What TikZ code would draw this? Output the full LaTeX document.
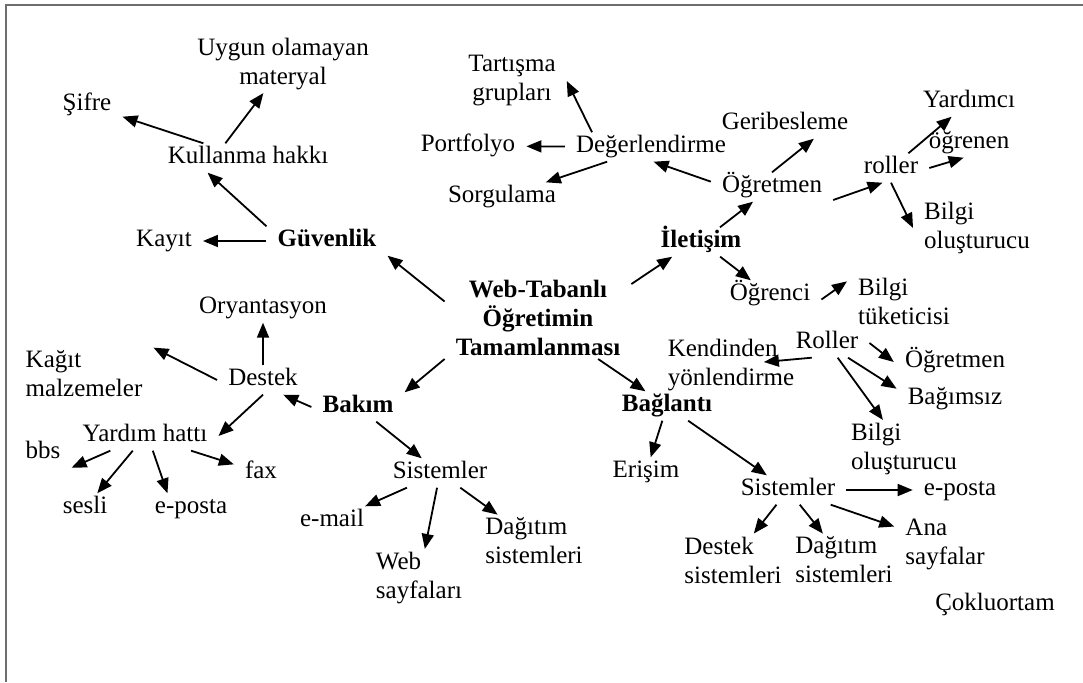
\documentclass[tikz,border=0pt]{standalone}
\usepackage{fontspec}
\setmainfont{Liberation Serif}
\usepackage{tikz}
\usetikzlibrary{arrows.meta}
\tikzstyle{leaf} = [font=\fontsize{25}{29}\selectfont, inner xsep=11pt, inner ysep=3pt, text height=17pt, text depth=6pt]
\tikzstyle{leafml} = [font=\fontsize{25}{29}\selectfont, inner xsep=11pt, inner ysep=3pt, align=left]
\tikzstyle{hub} = [font=\fontsize{25}{29}\selectfont\bfseries, inner xsep=11pt, inner ysep=3pt, text height=17pt, text depth=6pt]
\tikzstyle{link} = [-{Triangle[length=15pt,width=12pt]}, line width=1.8pt]
\tikzstyle{frame} = [line width=2pt, color={rgb,255:red,110;green,110;blue,110}]

\begin{document}
\begin{tikzpicture}[x=1pt, y=-1pt]
		\useasboundingbox (0,0) rectangle (1083,682);
		\draw [frame] (1083,5) -- (6,5) -- (6,682);

		% centre
		\node [hub, text height=, text depth=, align=center] (title) at (538,318) {Web-Tabanlı\\Öğretimin\\Tamamlanması};

		% Güvenlik
		\node [hub] (guv) at (327,241) {Güvenlik};
		\node [leaf, left of=guv, node distance=163pt] (kayit) {Kayıt};
		\node [leaf] (kull) at (248,158) {Kullanma hakkı};
		\node [leaf] (sifre) at (87,105) {Şifre};
		\node [leafml, align=center] (uygun) at (283,64) {Uygun olamayan\\materyal};
		\draw [link] (title.170) -- (guv.south east);
		\draw [link] (guv) -- (kayit);
		\draw [link] (guv.north west) -- (kull.200);
		\draw [link] (kull) -- (sifre);
		\draw [link] (kull.147) -- (uygun.236);

		% Bakım
		\node [hub] (bakim) at (358,407) {Bakım};
		\node [leaf] (destek) at (263,380) {Destek};
		\node [leaf, above of=destek, node distance=72pt] (orya) {Oryantasyon};
		\node [leafml] (kagit) at (84,374) {Kağıt\\malzemeler};
		\node [leaf] (yardim) at (145,436) {Yardım hattı};
		\node [leaf] (bbs) at (43,453) {bbs};
		\node [leaf] (fax) at (261,473) {fax};
		\node [leaf] (sesli) at (85,508) {sesli};
		\node [leaf, right of=sesli, node distance=106pt] (eposta1) {e-posta};
		\node [leaf] (sis1) at (440,473) {Sistemler};
		\node [leaf] (email) at (332,521) {e-mail};
		\node [leafml] (websay) at (419,578) {Web\\sayfaları};
		\node [leafml] (dagitim1) at (534,541) {Dağıtım\\sistemleri};
		\draw [link] (title.south west) -- (bakim.north east);
		\draw [link] (bakim.west) -- (destek.324);
		\draw [link] (destek) -- (orya);
		\draw [link] (destek.west) -- (kagit.north east);
		\draw [link] (destek.south) -- (yardim.east);
		\draw [link] (yardim.203) -- (bbs.south east);
		\draw [link] (yardim) -- (fax);
		\draw [link] (yardim) -- (sesli);
		\draw [link] (yardim.298) -- (eposta1.148);
		\draw [link] (bakim) -- (sis1);
		\draw [link] (sis1) -- (email);
		\draw [link] (sis1) -- (websay);
		\draw [link] (sis1) -- (dagitim1);

		% İletişim
		\node [hub] (ilet) at (701,242) {İletişim};
		\node [leaf] (ogretmen1) at (772,187) {Öğretmen};
		\node [leaf] (deger) at (651,147) {Değerlendirme};
		\node [leafml, align=center] (tartisma) at (512,81) {Tartışma\\grupları};
		\node [leaf] (portfolyo) at (468,146) {Portfolyo};
		\node [leaf] (sorgu) at (502,197) {Sorgulama};
		\node [leaf] (geri) at (785,124) {Geribesleme};
		\node [leaf] (roller1) at (891,168) {roller};
		\node [leaf] (yardimci) at (969,102) {Yardımcı};
		\node [leaf, below of=yardimci, node distance=41pt] (ogrenen) {öğrenen};
		\node [leafml] (bilgi1) at (977,228) {Bilgi\\oluşturucu};
		\node [leaf] (ogrenci) at (770,295) {Öğrenci};
		\node [leafml] (tuketici) at (904,301) {Bilgi\\tüketicisi};
		\draw [link] (title.20) -- (ilet.207);
		\draw [link] (ilet) -- (ogretmen1);
		\draw [link] (ogretmen1.175) -- (deger.-80);
		\draw [link] (deger.166) -- (tartisma.east);
		\draw [link] (deger) -- (portfolyo);
		\draw [link] (deger) -- (sorgu);
		\draw [link] (ogretmen1.north) -- (geri.333);
		\draw [link] (ogretmen1.-12) -- (roller1.240);
		\draw [link] (roller1) -- (yardimci);
		\draw [link] (roller1.east) -- (ogrenen.250);
		\draw [link] (roller1.south) -- (bilgi1.west);
		\draw [link] (ilet) -- (ogrenci);
		\draw [link] (ogrenci.-5) -- (tuketici.161);

		% Bağlantı
		\node [hub] (baglanti) at (667,406) {Bağlantı};
		\node [leaf] (roller2) at (827,343) {Roller};
		\node [leafml] (kendinden) at (731,365) {Kendinden\\yönlendirme};
		\node [leaf] (ogretmen2) at (955,362) {Öğretmen};
		\node [leaf, below of=ogretmen2, node distance=37pt] (bagimsiz) {Bağımsız};
		\node [leafml] (bilgi2) at (904,449) {Bilgi\\oluşturucu};
		\node [leaf] (erisim) at (646,472) {Erişim};
		\node [leaf] (sis2) at (788,490) {Sistemler};
		\node [leaf] (eposta2) at (960,490) {e-posta};
		\node [leafml] (desteksis) at (733,560) {Destek\\sistemleri};
		\node [leafml] (dagitim2) at (844,560) {Dağıtım\\sistemleri};
		\node [leafml] (ana) at (945,544) {Ana\\sayfalar};
		\node [leaf] (coklu) at (995,605) {Çokluortam};
		\draw [link] (title) -- (baglanti);
		\draw [link, shorten >=33pt] (roller2.224) -- (kendinden.center);
		\draw [link] (roller2.east) -- (ogretmen2.west);
		\draw [link] (roller2.325) -- (bagimsiz.170);
		\draw [link] (roller2) -- (bilgi2);
		\draw [link] (baglanti) -- (erisim);
		\draw [link] (baglanti) -- (sis2);
		\draw [link] (sis2) -- (eposta2);
		\draw [link] (sis2) -- (desteksis);
		\draw [link] (sis2) -- (dagitim2);
		\draw [link] (sis2) -- (ana);

\end{tikzpicture}
\end{document}
